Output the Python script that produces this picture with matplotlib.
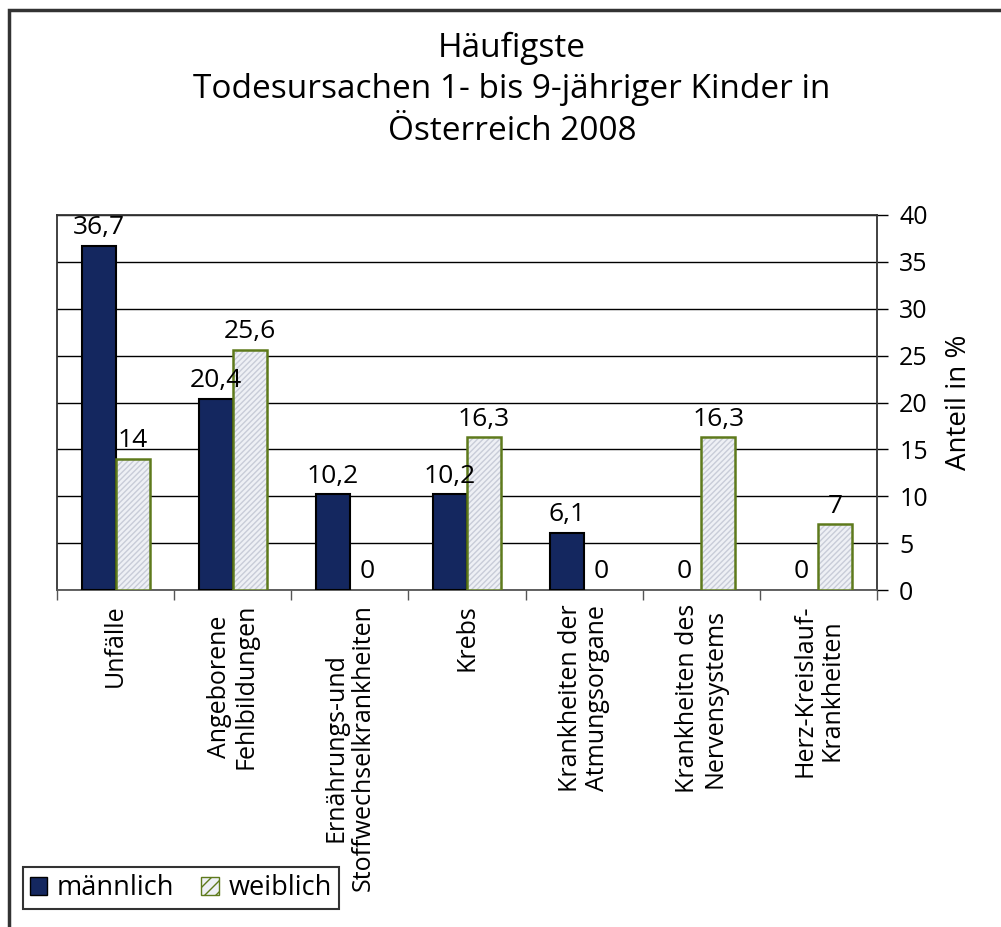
import matplotlib
matplotlib.use("Agg")
import matplotlib.pyplot as plt
from matplotlib.patches import Patch, Rectangle
import numpy as np

plt.rcParams["font.family"] = ["Open Sans", "DejaVu Sans"]

categories = ["Unfälle",
              "Angeborene\nFehlbildungen",
              "Ernährungs-und\nStoffwechselkrankheiten",
              "Krebs",
              "Krankheiten der\nAtmungsorgane",
              "Krankheiten des\nNervensystems",
              "Herz-Kreislauf-\nKrankheiten"]
male = [36.7, 20.4, 10.2, 10.2, 6.1, 0, 0]
female = [14, 25.6, 0, 16.3, 0, 16.3, 7]
male_labels = ["36,7", "20,4", "10,2", "10,2", "6,1", "0", "0"]
female_labels = ["14", "25,6", "0", "16,3", "0", "16,3", "7"]

navy = "#14275f"
olive = "#5e7a1c"
hatch_bg = "#eef0f5"
hatch_line = "#c8ccd8"

fig = plt.figure(figsize=(10.01, 9.27), dpi=100)
fig.patches.append(Rectangle((9 / 1001, -0.1), 1.2, (927 - 10) / 927 + 0.1,
                             transform=fig.transFigure, fill=False,
                             edgecolor="#333333", linewidth=2.5))

ax = fig.add_axes([57 / 1001, (927 - 590) / 927, 820 / 1001, 375 / 927])

x = np.arange(len(categories))
width = 0.29
plt.rcParams["hatch.linewidth"] = 1.0
male_lw = [1.5 if v > 0 else 0 for v in male]
ax.bar(x - width / 2, male, width, color=navy, edgecolor="black", linewidth=male_lw, zorder=3)
ax.bar(x + width / 2, female, width, color=hatch_bg, edgecolor=hatch_line,
       hatch="//////", linewidth=0, zorder=3)
female_lw = [1.8 if v > 0 else 0 for v in female]
ax.bar(x + width / 2, female, width, fill=False, edgecolor=olive, linewidth=female_lw, zorder=4)

for i in range(len(categories)):
    ax.text(x[i] - width / 2, male[i] + 0.6, male_labels[i], ha="center", va="bottom",
            fontsize=19, zorder=5)
    ax.text(x[i] + width / 2, female[i] + 0.6, female_labels[i], ha="center", va="bottom",
            fontsize=19, zorder=5)

ax.set_xlim(-0.5, len(categories) - 0.5)
ax.set_ylim(0, 40)
ax.set_yticks(np.arange(0, 41, 5))
ax.yaxis.tick_right()
ax.yaxis.set_label_position("right")
ax.tick_params(axis="y", direction="out", length=8, width=1, labelsize=18, pad=8,
               left=False, right=True)
ax.set_ylabel("Anteil in %", fontsize=20, labelpad=12)
ax.grid(axis="y", color="black", linewidth=1, zorder=0)

ax.set_xticks(np.arange(-0.5, len(categories), 1))
ax.set_xticklabels([])
ax.tick_params(axis="x", direction="out", length=7, width=1, color="#555555")
for i, c in enumerate(categories):
    ax.text(x[i], -1.5, c, rotation=90, ha="center", va="top", ma="center",
            fontsize=18, linespacing=1.1)

for s in ["top", "left", "right"]:
    ax.spines[s].set_linewidth(1.3)
    ax.spines[s].set_color("#333333")
ax.spines["bottom"].set_linewidth(1.3)
ax.spines["bottom"].set_color("#555555")

fig.text(512 / 1001, (927 - 32) / 927,
         "Häufigste\nTodesursachen 1- bis 9-jähriger Kinder in\nÖsterreich 2008",
         ha="center", va="top", fontsize=24, linespacing=1.33)

handles = [Patch(facecolor=navy, edgecolor="black"),
           Patch(facecolor=hatch_bg, edgecolor=olive, hatch="///")]
leg = fig.legend(handles, ["männlich", "weiblich"], loc="lower left",
                 bbox_to_anchor=(23 / 1001, (927 - 909) / 927), ncol=2,
                 fontsize=19.5, frameon=True, fancybox=False, edgecolor="black",
                 handlelength=0.65, handleheight=0.65, handletextpad=0.35,
                 columnspacing=1.0, borderpad=0.25, borderaxespad=0)
leg.get_frame().set_linewidth(1.5)

fig.savefig("out.png", dpi=100)
